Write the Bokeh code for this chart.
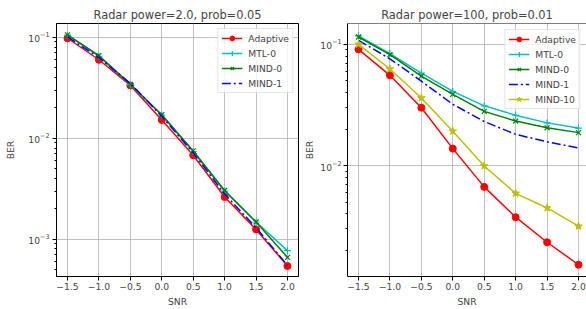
from bokeh.plotting import figure
from bokeh.layouts import row
from bokeh.models import Range1d, CustomJSTickFormatter, LogTicker, Span
from bokeh.embed import file_html
from bokeh.resources import INLINE

# ---------------- data ----------------
snr = [-1.5, -1.0, -0.5, 0.0, 0.5, 1.0, 1.5, 2.0]

left_title = "Radar power=2.0, prob=0.05"
left_adaptive = [0.098, 0.060, 0.0334, 0.0152, 0.0068, 0.00262, 0.00125, 0.000542]
left_mtl0 = [0.105, 0.065, 0.034, 0.0170, 0.0074, 0.0030, 0.00148, 0.00077]
left_mind0 = [0.106, 0.066, 0.0342, 0.0171, 0.0075, 0.00304, 0.00148, 0.00066]
left_mind1 = [0.101, 0.063, 0.035, 0.0165, 0.0072, 0.0028, 0.0013, 0.00055]

right_title = "Radar power=100, prob=0.01"
right_adaptive = [0.091, 0.0555, 0.030, 0.0138, 0.00667, 0.00375, 0.00233, 0.00152]
right_mtl0 = [0.1175, 0.0839, 0.058, 0.0409, 0.0311, 0.026, 0.0225, 0.0204]
right_mind0 = [0.115, 0.0824, 0.0546, 0.0387, 0.028, 0.0233, 0.0205, 0.0187]
right_mind1 = [0.108, 0.076, 0.0497, 0.032, 0.0231, 0.0181, 0.0157, 0.0140]
right_mind10 = [0.100, 0.0626, 0.0361, 0.0192, 0.00993, 0.0059, 0.00447, 0.00316]

x_label = "SNR"
y_label = "BER"

FONT = "DejaVu Sans"

# name -> color, marker, dash
STYLES = {
    "Adaptive": ("#ff0000", "circle", "solid"),
    "MTL-0": ("#00bfbf", "cross", "solid"),
    "MIND-0": ("#008000", "x", "solid"),
    "MIND-1": ("#0000ff", None, "9 3 2 3"),
    "MIND-10": ("#bfbf00", "star", "solid"),
}


def make_fig(title, series, x_end, y_lo, y_hi, width, b_left, b_right,
             legend_margin, y_lbl_standoff, y_axlbl_standoff, open_right=False):
    p = figure(
        width=width, height=309,
        y_axis_type="log",
        x_range=Range1d(-1.675, x_end),
        y_range=Range1d(y_lo, y_hi),
        output_backend="svg", toolbar_location=None,
        title=title,
        min_border_left=b_left, min_border_right=b_right,
        min_border_top=23, min_border_bottom=31,
    )
    p.background_fill_color = "white"
    p.border_fill_color = "white"

    p.title.text_font = FONT
    p.title.text_font_size = "11.4px"
    p.title.text_font_style = "normal"
    p.title.align = "center"
    p.title.standoff = 4

    for name, ys in series:
        color, marker, dash = STYLES[name]
        p.line(snr, ys, line_color=color, line_width=1.5, line_dash=dash,
               legend_label=name)
        if marker is not None:
            if marker == "circle":
                p.scatter(snr, ys, marker="circle", size=7, fill_color=color,
                          line_color=color, legend_label=name)
            elif marker == "star":
                p.scatter(snr, ys, marker="star", size=8, fill_color=color,
                          line_color=color, legend_label=name)
            else:
                p.scatter(snr, ys, marker=marker, size=7, fill_color=None,
                          line_color=color, line_width=1.2, legend_label=name)

    if open_right:
        # left/bottom spines come from the axes; top spine as a span,
        # the right spine falls outside the page
        p.outline_line_color = None
        p.add_layout(Span(location=p.y_range.end, dimension="width",
                          line_color="black", line_width=1))
    else:
        p.outline_line_color = "black"
        p.outline_line_width = 1

    for ax in (p.xaxis[0], p.yaxis[0]):
        ax.axis_line_color = "black"
        ax.major_tick_line_color = "black"
        ax.major_tick_out = 4
        ax.major_tick_in = 0
        ax.minor_tick_out = 2
        ax.minor_tick_in = 0
        ax.major_label_text_font = FONT
        ax.major_label_text_font_size = "9.2px"
        ax.axis_label_text_font = FONT
        ax.axis_label_text_font_size = "9.2px"
        ax.axis_label_text_font_style = "normal"
    xa = p.below[0]
    ya = p.left[0]
    xa.major_label_standoff = 2
    xa.axis_label_standoff = 3
    ya.major_label_standoff = y_lbl_standoff
    ya.axis_label_standoff = y_axlbl_standoff
    xa.minor_tick_line_color = None
    xa.ticker = snr
    xa.formatter = CustomJSTickFormatter(code="""
        if (Math.abs(tick) < 1e-9) { return "0.0"; }
        return tick.toFixed(1).replace("-", "\u2212");
    """)
    ya.ticker = LogTicker(desired_num_ticks=2, num_minor_ticks=10)
    ya.minor_tick_line_color = "black"
    xa.axis_label = x_label
    ya.axis_label = y_label

    p.xgrid.grid_line_color = "#b0b0b0"
    p.ygrid.grid_line_color = "#b0b0b0"
    p.xgrid.grid_line_width = 0.8
    p.ygrid.grid_line_width = 0.8

    lg = p.legend[0]
    lg.location = "top_right"
    lg.margin = legend_margin
    lg.padding = 3
    lg.spacing = 3
    lg.label_height = 12
    lg.glyph_height = 12
    lg.glyph_width = 21
    lg.label_standoff = 6
    lg.label_text_font = FONT
    lg.label_text_font_size = "9.2px"
    lg.border_line_color = "#cccccc"
    lg.border_line_width = 1
    lg.background_fill_alpha = 0.8
    return p


p1 = make_fig(left_title,
              [("Adaptive", left_adaptive), ("MTL-0", left_mtl0),
               ("MIND-0", left_mind0), ("MIND-1", left_mind1)],
              2.175, 4.27e-4, 0.1372, 300, 56, 2, 5, 3, 9)
p2 = make_fig(right_title,
              [("Adaptive", right_adaptive), ("MTL-0", right_mtl0),
               ("MIND-0", right_mind0), ("MIND-1", right_mind1),
               ("MIND-10", right_mind10)],
              2.127, 0.001216, 0.1486, 286, 47, 0, 6, 2, 2, open_right=True)

layout = row(p1, p2)
open("out.html", "w").write(file_html(layout, INLINE))
